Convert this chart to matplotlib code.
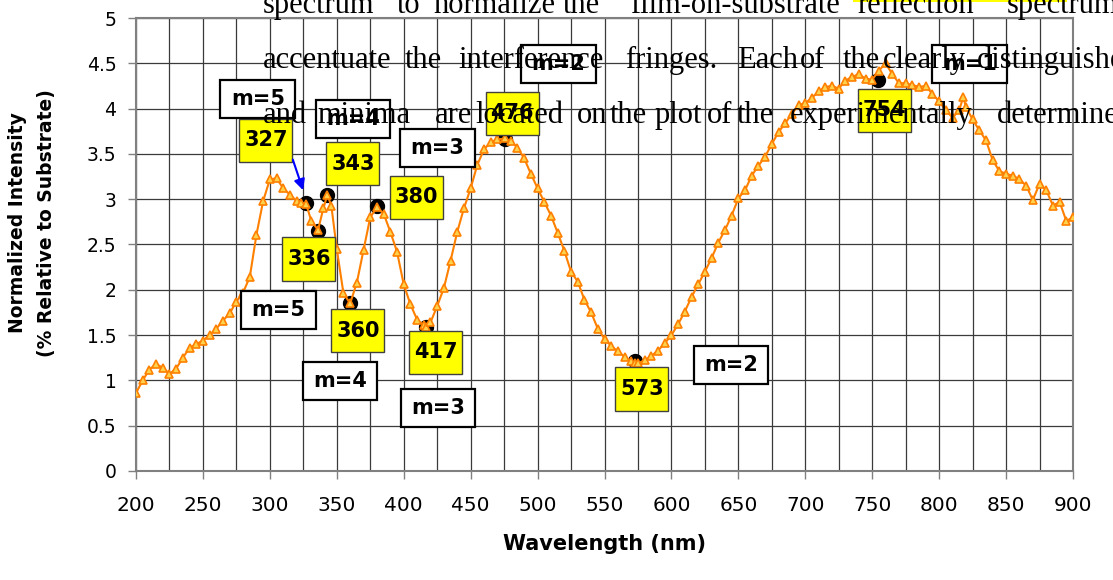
import matplotlib
matplotlib.use("Agg")
import matplotlib.pyplot as plt
from matplotlib.patches import Rectangle

# measured spectrum (wavelength in nm, normalized intensity)
wavelength = [200, 205, 210, 215, 220, 225, 230, 235, 240, 245, 250, 255, 260, 265, 270,
              275, 280, 285, 290, 295, 300, 305, 310, 315, 320, 323, 327, 331, 336, 340,
              343, 346, 350, 355, 360, 365, 370, 375, 380, 385, 390, 395, 400, 405, 410,
              415, 417, 420, 425, 430, 435, 440, 445, 450, 455, 460, 465, 470, 476, 480,
              485, 490, 495, 500, 505, 510, 515, 520, 525, 530, 535, 540, 545, 550, 555,
              560, 565, 570, 573, 575, 580, 585, 590, 595, 600, 605, 610, 615, 620, 625,
              630, 635, 640, 645, 650, 655, 660, 665, 670, 675, 680, 685, 690, 695, 700,
              705, 710, 715, 720, 725, 730, 735, 740, 745, 750, 755, 760, 765, 770, 775,
              780, 785, 790, 795, 800, 805, 810, 815, 818, 820, 825, 830, 835, 840, 845,
              850, 855, 860, 865, 870, 875, 880, 885, 890, 895, 900]
intensity = [0.86, 1.00, 1.12, 1.18, 1.14, 1.07, 1.13, 1.25, 1.36, 1.40, 1.44, 1.50, 1.57, 1.66, 1.74,
             1.87, 1.97, 2.14, 2.61, 2.98, 3.22, 3.23, 3.12, 3.05, 2.98, 2.96, 2.95, 2.76, 2.66, 2.90,
             3.05, 2.92, 2.45, 1.96, 1.85, 2.08, 2.44, 2.80, 2.91, 2.84, 2.64, 2.42, 2.06, 1.84, 1.67,
             1.61, 1.59, 1.64, 1.82, 2.02, 2.32, 2.64, 2.90, 3.12, 3.38, 3.55, 3.63, 3.66, 3.67, 3.64,
             3.57, 3.45, 3.28, 3.12, 2.97, 2.82, 2.63, 2.43, 2.20, 2.09, 1.89, 1.75, 1.57, 1.46, 1.38,
             1.32, 1.26, 1.21, 1.19, 1.19, 1.22, 1.27, 1.33, 1.41, 1.50, 1.62, 1.76, 1.92, 2.06, 2.20,
             2.35, 2.52, 2.66, 2.82, 3.01, 3.10, 3.26, 3.37, 3.47, 3.61, 3.74, 3.84, 3.94, 4.04, 4.06,
             4.12, 4.19, 4.24, 4.25, 4.22, 4.31, 4.35, 4.38, 4.33, 4.32, 4.42, 4.50, 4.38, 4.28, 4.28,
             4.26, 4.24, 4.25, 4.16, 4.08, 3.98, 3.90, 3.98, 4.13, 4.02, 3.88, 3.76, 3.65, 3.43, 3.31,
             3.28, 3.26, 3.22, 3.15, 2.99, 3.17, 3.10, 2.93, 2.97, 2.76, 2.80]

# picked extrema
peak_nm = [327, 336, 343, 360, 380, 417, 476, 573, 754]
peak_val = [2.96, 2.65, 3.05, 1.85, 2.92, 1.59, 3.66, 1.21, 4.32]
peak_labels = ["327", "336", "343", "360", "380", "417", "476", "573", "754"]
# where the yellow wavelength boxes sit (nm, intensity)
peak_label_pos = [(297.1, 3.65), (329.2, 2.34), (362.1, 3.39), (365.8, 1.55), (409.2, 3.02),
                  (424.1, 1.31), (480.9, 3.95), (578.0, 0.905), (759.5, 3.98)]

order_labels = ["m=5", "m=4", "m=3", "m=2", "m=1", "m=5", "m=4", "m=3", "m=2"]
order_label_pos = [(291.1, 4.11), (362.1, 3.89), (424.9, 3.57), (515.3, 4.49), (823.0, 4.49),
                   (306.1, 1.78), (352.4, 0.99), (425.6, 0.70), (644.5, 1.175)]

# text of the document page the chart is pasted over
doc_lines = [
    [("spectrum", 263), ("to", 397), ("normalize", 433), ("the", 563), ("film-on-substrate", 630),
     ("reflection", 857), ("spectrum", 1007)],
    [("accentuate", 263), ("the", 405), ("interference", 458), ("fringes.", 625), ("Each", 737),
     ("of", 800), ("the", 843), ("clearly", 883), ("distinguished", 977)],
    [("and", 263), ("minima", 317), ("are", 435), ("located", 475), ("on", 577), ("the", 610),
     ("plot", 655), ("of", 707), ("the", 737), ("experimentally", 790), ("determined", 997)],
]
doc_baselines = [13, 68, 123]

W, H = 1113, 580
fig = plt.figure(figsize=(W / 100, H / 100), dpi=100)
ax = fig.add_axes([136 / W, 1 - 471 / H, (1073 - 136) / W, (471 - 18) / H])

ax.plot(peak_nm, peak_val, "o", color="black", ms=10, zorder=3)
ax.plot(wavelength, intensity, "-", color="#FF8000", lw=1.5, marker="^", ms=5.5,
        mfc="#FFD24D", mec="#FF8000", mew=1.2, zorder=4)

ax.set_xlim(200, 900)
ax.set_ylim(0, 5)
ax.set_xticks(range(200, 901, 50))
ax.set_xticks(range(225, 900, 50), minor=True)
ax.set_yticks([0, 0.5, 1, 1.5, 2, 2.5, 3, 3.5, 4, 4.5, 5])
ax.set_yticklabels(["0", "0.5", "1", "1.5", "2", "2.5", "3", "3.5", "4", "4.5", "5"])
ax.grid(True, which="both", color="#3a3a3a", lw=0.9)
ax.set_axisbelow(True)
ax.tick_params(axis="x", which="major", length=6, width=1, color="#808080", pad=12, labelsize=14.5)
ax.tick_params(axis="x", which="minor", length=0)
ax.tick_params(axis="y", length=6, width=1, color="#808080", pad=8, labelsize=13.5)
for s in ax.spines.values():
    s.set_color("#808080")
    s.set_linewidth(1.5)

ax.set_xlabel("Wavelength (nm)", fontsize=15, fontweight="bold", labelpad=14)
fig.text(18 / W, 1 - 223 / H, "Normalized Intensity", rotation=90, ha="center", va="center",
         fontsize=13.5, fontweight="bold")
fig.text(47 / W, 1 - 223 / H, "(% Relative to Substrate)", rotation=90, ha="center", va="center",
         fontsize=13.5, fontweight="bold")


def box(x, y, txt, w, h, fc, ec, lw):
    ax.add_patch(Rectangle((x - w / 2, y - h / 2), w, h, fc=fc, ec=ec, lw=lw, zorder=5))
    ax.text(x, y, txt, ha="center", va="center", fontsize=15, fontweight="bold", zorder=6)


for (x, y), t in zip(peak_label_pos, peak_labels):
    box(x, y, t, 39.6, 0.475, "#FFFF00", "#404040", 1)
for (x, y), t in zip(order_label_pos, order_labels):
    box(x, y, t, 56, 0.42, "white", "black", 1.6)

ax.annotate("", xy=(325.5, 3.07), xytext=(316.5, 3.466),
            arrowprops=dict(arrowstyle="-|>", color="#0000FF", lw=1.5, mutation_scale=16),
            zorder=7)

# page text and the highlight strip at the top edge
fig.patches.append(Rectangle((853 / W, 1 - 2 / H), (1067 - 853) / W, 2 / H,
                             transform=fig.transFigure, fc="#FFFF00", ec="none"))
for words, base in zip(doc_lines, doc_baselines):
    for word, x in words:
        fig.text(x / W, 1 - base / H, word, ha="left", va="baseline",
                 family="Liberation Serif", fontsize=22, zorder=10)

fig.savefig("out.png", dpi=100)
